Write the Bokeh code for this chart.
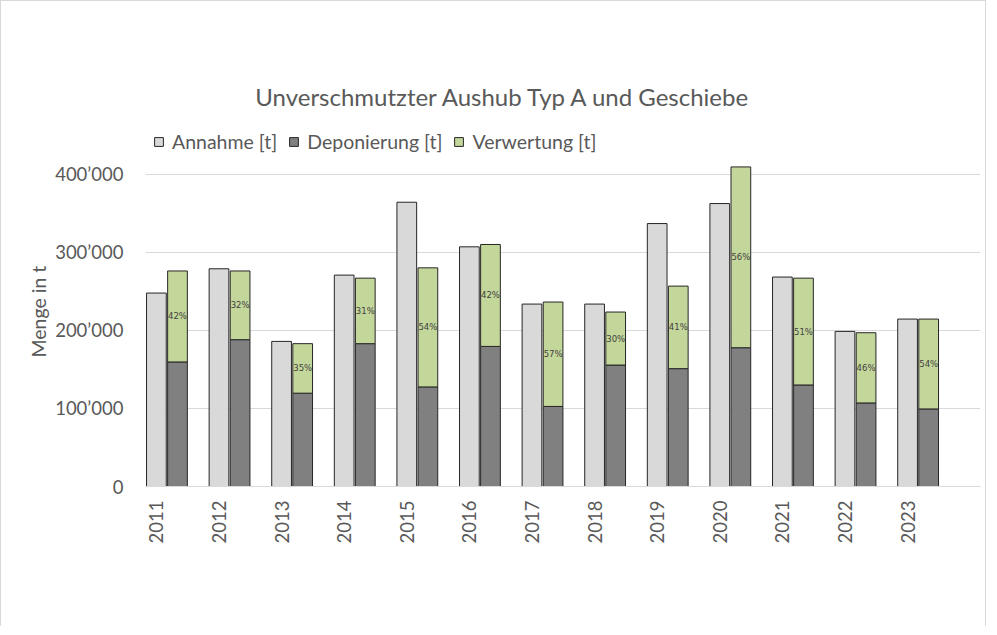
import math
from bokeh.plotting import figure
from bokeh.models import (ColumnDataSource, Range1d, FixedTicker, Legend, LegendItem, Label, Title)
from bokeh.core.properties import value
from bokeh.embed import file_html
from bokeh.resources import INLINE

years = ["2011", "2012", "2013", "2014", "2015", "2016", "2017", "2018", "2019", "2020", "2021", "2022", "2023"]
annahme = [247700, 278800, 185800, 270700, 364000, 306900, 233600, 233600, 336700, 362300, 268200, 198600, 214400]
deponierung = [159500, 188000, 119500, 182900, 127500, 179400, 102500, 155500, 150900, 177700, 130000, 107000, 99300]
verwertung = [116500, 88000, 63400, 83900, 152500, 130500, 133700, 67900, 105700, 231500, 136800, 89900, 115100]
pct_labels = ["42%", "32%", "35%", "31%", "54%", "42%", "57%", "30%", "41%", "56%", "51%", "46%", "54%"]
y_tick_values = [0, 100000, 200000, 300000, 400000]
y_tick_labels = ["0", "100’000", "200’000", "300’000", "400’000"]

FONT = "Lato"
TXT = "#595959"

idx = list(range(len(years)))
src = ColumnDataSource(dict(
    xa=idx,
    xb=[i + 0.337 for i in idx],
    annahme=annahme,
    dep=deponierung,
    top=[d + v for d, v in zip(deponierung, verwertung)],
    mid=[d + v / 2 for d, v in zip(deponierung, verwertung)],
    pct=pct_labels,
))

p = figure(width=986, height=626, output_backend="svg", toolbar_location=None,
           x_range=Range1d(-0.174, 13.165), y_range=Range1d(0, 608232),
           min_border_left=144, min_border_right=7, min_border_top=10, min_border_bottom=141)
p.styles = {"border-left": "1px solid #d9d9d9", "border-top": "1px solid #d9d9d9",
            "border-right": "1px solid #d9d9d9"}
p.outline_line_color = None
p.background_fill_color = "white"
p.border_fill_color = "white"

w = 0.315
r_a = p.vbar(x="xa", top="annahme", bottom=0, width=w, source=src,
             fill_color="#d9d9d9", line_color="#262626", line_width=1)
r_d = p.vbar(x="xb", top="dep", bottom=0, width=w, source=src,
             fill_color="#808080", line_color="#262626", line_width=1)
r_v = p.vbar(x="xb", top="top", bottom="dep", width=w, source=src,
             fill_color="#c4d79b", line_color="#262626", line_width=1)

p.text(x="xb", y="mid", text="pct", source=src, text_font=value("DejaVu Sans"),
       text_font_size="8.5px", text_color="#404040", text_align="center", text_baseline="middle")

# axes
p.xaxis.ticker = FixedTicker(ticks=idx)
p.xaxis.major_label_overrides = {i: y for i, y in zip(idx, years)}
p.xaxis.major_label_orientation = math.pi / 2
p.xaxis.major_label_text_font = FONT
p.xaxis.major_label_text_font_size = "18.5px"
p.xaxis.major_label_text_color = TXT
p.xaxis.major_label_standoff = 8
p.xaxis.major_tick_line_color = None
p.xaxis.minor_tick_line_color = None
p.xaxis.axis_line_color = "#d9d9d9"

p.yaxis.ticker = FixedTicker(ticks=y_tick_values)
p.yaxis.major_label_overrides = {v: l for v, l in zip(y_tick_values, y_tick_labels)}
p.yaxis.major_label_text_font = FONT
p.yaxis.major_label_text_font_size = "18.5px"
p.yaxis.major_label_text_color = TXT
p.yaxis.major_label_standoff = 16
p.yaxis.major_tick_line_color = None
p.yaxis.minor_tick_line_color = None
p.yaxis.axis_line_color = None

ylab = Title(text="Menge in t", align="left", offset=129, text_font=FONT,
             text_font_size="19.5px", text_font_style="normal", text_color=TXT, standoff=6)
p.add_layout(ylab, "left")

p.xgrid.grid_line_color = None
p.ygrid.grid_line_color = "#d9d9d9"
p.ygrid.grid_line_width = 1

# title
title = Label(x=5.545, y=499400, text="Unverschmutzter Aushub Typ A und Geschiebe",
              text_font=FONT, text_font_size="24px", text_color=TXT,
              text_align="center", text_baseline="middle")
p.add_layout(title)

legend = Legend(items=[LegendItem(label="Annahme [t]", renderers=[r_a]),
                       LegendItem(label="Deponierung [t]", renderers=[r_d]),
                       LegendItem(label="Verwertung [t]", renderers=[r_v])],
                orientation="horizontal", location=(8, 333))
legend.glyph_width = 11
legend.glyph_height = 11
legend.label_standoff = 8
legend.spacing = 11
legend.padding = 0
legend.margin = 0
legend.border_line_color = None
legend.background_fill_alpha = 0
legend.label_text_font = FONT
legend.label_text_font_size = "19.5px"
legend.label_text_color = TXT
p.add_layout(legend, "center")

open("out.html", "w").write(file_html(p, INLINE))
